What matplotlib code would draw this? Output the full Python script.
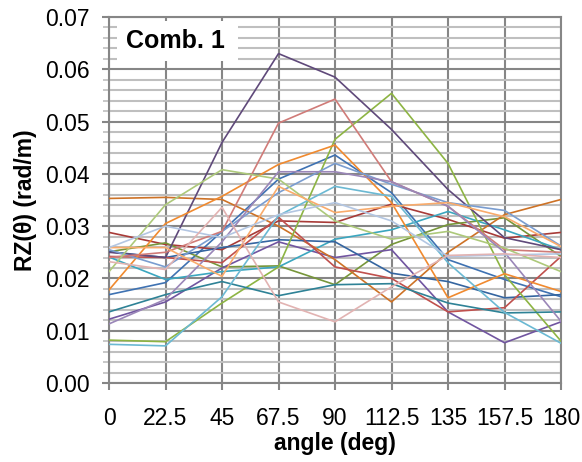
import matplotlib
matplotlib.use("Agg")
import matplotlib.pyplot as plt
from matplotlib.ticker import MultipleLocator
from matplotlib.patches import Rectangle

plt.rcParams['font.family'] = ['Liberation Sans', 'DejaVu Sans']

angles = [0, 22.5, 45, 67.5, 90, 112.5, 135, 157.5, 180]
angle_labels = ["0", "22.5", "45", "67.5", "90", "112.5", "135", "157.5", "180"]

s_A = [0.0250, 0.0240, 0.0460, 0.0630, 0.0585, 0.0485, 0.0370, 0.0278, 0.0255]
s_B = [0.0240, 0.0250, 0.0290, 0.0497, 0.0543, 0.0385, 0.0338, 0.0255, 0.0250]
s_C = [0.0082, 0.0079, 0.0153, 0.0222, 0.0466, 0.0554, 0.0420, 0.0207, 0.0080]
s_D = [0.0074, 0.0071, 0.0165, 0.0320, 0.0376, 0.0357, 0.0230, 0.0135, 0.0076]
s_E = [0.0178, 0.0305, 0.0357, 0.0418, 0.0455, 0.0345, 0.0163, 0.0209, 0.0175]
s_F = [0.0353, 0.0355, 0.0351, 0.0300, 0.0236, 0.0155, 0.0250, 0.0322, 0.0351]
s_G = [0.0169, 0.0192, 0.0290, 0.0390, 0.0436, 0.0364, 0.0236, 0.0198, 0.0165]
s_H = [0.0255, 0.0222, 0.0290, 0.0364, 0.0420, 0.0380, 0.0345, 0.0330, 0.0262]
s_I = [0.0113, 0.0160, 0.0270, 0.0404, 0.0404, 0.0385, 0.0338, 0.0250, 0.0118]
s_J = [0.0122, 0.0155, 0.0220, 0.0270, 0.0240, 0.0255, 0.0136, 0.0077, 0.0117]
s_K = [0.0288, 0.0265, 0.0255, 0.0310, 0.0307, 0.0342, 0.0313, 0.0277, 0.0288]
s_L = [0.0242, 0.0240, 0.0230, 0.0317, 0.0222, 0.0200, 0.0136, 0.0144, 0.0242]
s_M = [0.0213, 0.0341, 0.0408, 0.0390, 0.0310, 0.0275, 0.0290, 0.0258, 0.0213]
s_N = [0.0251, 0.0268, 0.0222, 0.0224, 0.0188, 0.0265, 0.0303, 0.0316, 0.0242]
s_O = [0.0136, 0.0169, 0.0194, 0.0167, 0.0188, 0.0190, 0.0153, 0.0134, 0.0136]
s_P = [0.0241, 0.0198, 0.0213, 0.0222, 0.0275, 0.0293, 0.0328, 0.0293, 0.0255]
s_Q = [0.0232, 0.0217, 0.0336, 0.0155, 0.0117, 0.0184, 0.0244, 0.0247, 0.0240]
s_R = [0.0259, 0.0300, 0.0278, 0.0322, 0.0345, 0.0310, 0.0242, 0.0245, 0.0247]
s_S = [0.0259, 0.0259, 0.0204, 0.0376, 0.0326, 0.0338, 0.0345, 0.0318, 0.0261]
s_T = [0.0251, 0.0240, 0.0259, 0.0274, 0.0270, 0.0210, 0.0194, 0.0163, 0.0169]

series = [s_G, s_K, s_N, s_J, s_P, s_F, s_T, s_L, s_C, s_A, s_O, s_E,
          s_H, s_B, s_M, s_I, s_D, s_S, s_R, s_Q]
colors = ['#3F72B2', '#A83B38', '#77963A', '#7155A0', '#3BA6BF', '#CD7226',
          '#3465A0', '#C0504D', '#8DB443', '#5F497A', '#2E8296', '#F08A2F',
          '#7A9DD0', '#D07B78', '#ADC97A', '#9A86B8', '#6BB9D3', '#F9AB6B',
          '#B3C6E2', '#E2B3B2']

fig = plt.figure(figsize=(5.82, 4.62), dpi=100)
ax = fig.add_axes([109/582, 1-383/462, (561-109)/582, (383-17)/462])

for s, c in zip(series, colors):
    ax.plot(angles, s, color=c, lw=1.2, zorder=3)

ax.set_xlim(0, 180)
ax.set_ylim(0, 0.07)
ax.set_xticks(angles)
ax.set_xticklabels(angle_labels)
ax.yaxis.set_major_locator(MultipleLocator(0.01))
ax.yaxis.set_minor_locator(MultipleLocator(0.002))
ax.set_yticklabels([f"{v:.2f}" for v in ax.get_yticks()])

ax.grid(which='minor', axis='y', color='#BFBFBF', lw=1.5, zorder=0)
ax.grid(which='major', axis='y', color='#868686', lw=1.5, zorder=1)
ax.grid(which='major', axis='x', color='#868686', lw=1.5, zorder=1)
ax.set_axisbelow(True)

for sp in ax.spines.values():
    sp.set_color('#868686')
    sp.set_linewidth(1.5)

ax.tick_params(axis='both', which='major', direction='out', length=5, width=1.5,
               color='#868686', labelsize=16.5)
ax.tick_params(axis='y', which='major', pad=9)
ax.tick_params(axis='y', which='minor', direction='out', length=4, width=1.2,
               color='#BFBFBF')
ax.tick_params(axis='x', which='major', pad=12)

ax.set_xlabel('angle (deg)', fontsize=16.5, fontweight='bold', labelpad=2)
ax.set_ylabel('RZ(θ) (rad/m)', fontsize=16.5, fontweight='bold', labelpad=6)

ax.add_patch(Rectangle((3.2, 0.0616), 48.2, 0.0076, facecolor='white',
                       edgecolor='none', zorder=4))
ax.text(6.6, 0.0654, 'Comb. 1', fontsize=18, fontweight='bold',
        va='center', ha='left', zorder=5)

fig.savefig('out.png', dpi=100)
